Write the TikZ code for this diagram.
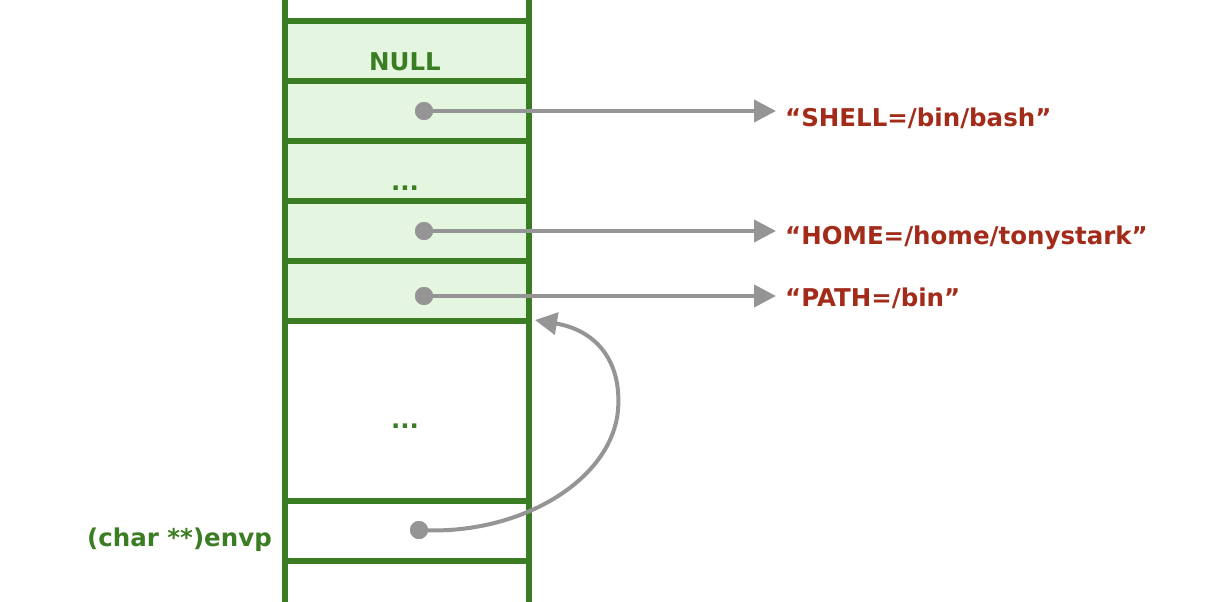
\documentclass[tikz,border=0pt]{standalone}
\usepackage{fontspec}
\setmainfont{DejaVu Sans}
\usetikzlibrary{arrows.meta}
\definecolor{sgreen}{HTML}{3A7D22}
\definecolor{sfill}{HTML}{E5F6E0}
\definecolor{sred}{HTML}{A32B1A}
\definecolor{sgray}{HTML}{959595}
\tikzset{
  wall/.style={draw=sgreen,line width=6pt},
  gtext/.style={text=sgreen,font=\bfseries\fontsize{24.5}{28}\selectfont,inner sep=0pt},
  rtext/.style={text=sred,font=\bfseries\fontsize{24.5}{28}\selectfont,inner sep=0pt,anchor=west},
  ptr/.style={fill=sgray,circle,minimum size=18pt,inner sep=0pt},
  link/.style={draw=sgray,line width=4pt,-{Triangle[length=22pt,width=22pt]}},
}
\begin{document}
\begin{tikzpicture}[x=1pt,y=-1pt]
\useasboundingbox (0,0) rectangle (1226,602);
\fill[sfill] (285,21) rectangle (529,321);
\foreach \yy in {21,81,141,201,261,321,501,561}{
  \draw[wall] (282,\yy) -- (532,\yy);
}
\draw[wall] (285,0) -- (285,602);
\draw[wall] (529,0) -- (529,602);
\node[gtext] (null) at (405,62) {NULL};
\node[gtext] (dots1) at (405,188) {...};
\node[gtext] (dots2) at (405,426) {...};
\node[gtext,anchor=east] (envp) at (272,540) {(char **)envp};
\node[ptr] (p1) at (424,111) {};
\node[ptr] (p2) at (424,231) {};
\node[ptr] (p3) at (424,296) {};
\node[ptr] (pe) at (419,530) {};
\node[rtext] (s1) at (785,118) {“SHELL=/bin/bash”};
\node[rtext] (s2) at (785,238) {“HOME=/home/tonystark”};
\node[rtext] (s3) at (785,298) {“PATH=/bin”};
\coordinate (t1) at (776,111);
\coordinate (t2) at (776,231);
\coordinate (t3) at (776,296);
\coordinate (tb) at (535,320);
\draw[link] (p1.center) -- (t1);
\draw[link] (p2.center) -- (t2);
\draw[link] (p3.center) -- (t3);
\draw[link] (pe.center) .. controls (520,536) and (612,480) .. (618,410) .. controls (622,360) and (595,330) .. (tb);
\fill[sgray] (p1) circle (9);
\fill[sgray] (p2) circle (9);
\fill[sgray] (p3) circle (9);
\fill[sgray] (pe) circle (9);
\end{tikzpicture}
\end{document}
